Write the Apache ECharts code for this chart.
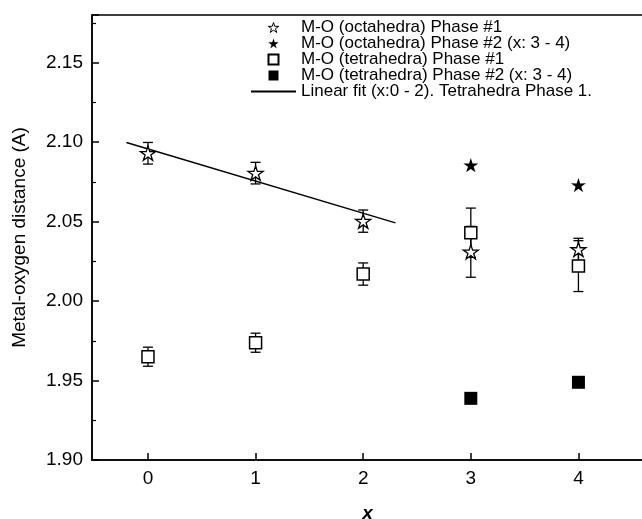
<!DOCTYPE html>
<html>
<head>
<meta charset="utf-8">
<script src="https://cdn.jsdelivr.net/npm/echarts@6/dist/echarts.min.js"></script>
<style>
  html, body { margin: 0; padding: 0; background: #fff; }
  #main { width: 642px; height: 519px; }
</style>
</head>
<body>
<div id="main"></div>
<script>
// values
var xTicks = [0, 1, 2, 3, 4];

var octa1X = [0, 1, 2, 3, 4];
var octa1Y = [2.093, 2.0805, 2.0503, 2.031, 2.0325];
var octa1Err = [0.0068, 0.0068, 0.007, 0.016, 0.007];

var octa2X = [3, 4];
var octa2Y = [2.0855, 2.073];

var tetra1X = [0, 1, 2, 3, 4];
var tetra1Y = [1.965, 1.9738, 2.017, 2.043, 2.022];
var tetra1Err = [0.006, 0.006, 0.007, 0.0155, 0.016];

var tetra2X = [3, 4];
var tetra2Y = [1.9388, 1.9489];

var fitX = [-0.2, 2.3];
var fitY = [2.0998, 2.0492];

var names = [
    'M-O (octahedra) Phase #1',
    'M-O (octahedra) Phase #2 (x: 3 - 4)',
    'M-O (tetrahedra) Phase #1',
    'M-O (tetrahedra) Phase #2 (x: 3 - 4)',
    'Linear fit (x:0 - 2). Tetrahedra Phase 1.'
];

var starPath = 'path://M50 0 L61.2 34.6 L97.6 34.5 L68.1 55.9 L79.4 90.5 L50 69 L20.6 90.5 L31.9 55.9 L2.4 34.5 L38.8 34.6 Z';
var squarePath = 'path://M0 0 H10 V10 H0 Z';
var barPath = 'path://M0 0 H100 V4 H0 Z';

function zip(xs, ys, es) {
    return xs.map(function (x, i) {
        return es ? [x, ys[i], es[i]] : [x, ys[i]];
    });
}

// error bars with caps
function errorBars(params, api) {
    var x = api.value(0), y = api.value(1), e = api.value(2);
    var top = api.coord([x, y + e]);
    var bot = api.coord([x, y - e]);
    var cap = 5;
    var st = { stroke: '#000', lineWidth: 1.3 };
    return {
        type: 'group',
        children: [
            { type: 'line', shape: { x1: top[0], y1: top[1], x2: bot[0], y2: bot[1] }, style: st },
            { type: 'line', shape: { x1: top[0] - cap, y1: top[1], x2: top[0] + cap, y2: top[1] }, style: st },
            { type: 'line', shape: { x1: bot[0] - cap, y1: bot[1], x2: bot[0] + cap, y2: bot[1] }, style: st }
        ]
    };
}

var chart = echarts.init(document.getElementById('main'));

var font = 'Liberation Sans, Arial, sans-serif';

var option = {
    animation: false,
    backgroundColor: '#fff',
    textStyle: { fontFamily: font },
    grid: {
        left: 92, top: 15, right: -1, bottom: 59,
        outerBoundsMode: 'none',
        containLabel: false,
        show: true, borderColor: '#000', borderWidth: 1.5
    },
    legend: {
        orient: 'vertical',
        left: 246,
        top: 14,
        itemWidth: 45,
        itemHeight: 10,
        itemGap: -1,
        textStyle: { fontFamily: font, fontSize: 17, color: '#000', lineHeight: 16 },
        data: [
            { name: names[0], icon: starPath, itemStyle: { borderWidth: 1 } },
            { name: names[1], icon: starPath },
            { name: names[2], icon: squarePath },
            { name: names[3], icon: squarePath },
            { name: names[4], icon: barPath, itemStyle: { color: '#000' } }
        ]
    },
    xAxis: {
        type: 'value',
        min: -0.52,
        max: 4.6,
        name: 'x',
        nameLocation: 'middle',
        nameGap: 44,
        nameTextStyle: { fontFamily: font, fontSize: 19, fontWeight: 'bold', fontStyle: 'italic', color: '#000' },
        axisLine: { show: true, onZero: false, lineStyle: { color: '#000', width: 1.5 } },
        axisTick: { show: true, inside: true, length: 7, customValues: xTicks, lineStyle: { color: '#000', width: 1.5 } },
        axisLabel: { customValues: xTicks, fontSize: 19, color: '#000', margin: 9, fontFamily: font },
        splitLine: { show: false }
    },
    yAxis: {
        type: 'value',
        min: 1.9,
        max: 2.18,
        interval: 0.05,
        name: 'Metal-oxygen distance (A)',
        nameLocation: 'middle',
        nameGap: 63,
        nameTextStyle: { fontFamily: font, fontSize: 19, color: '#000' },
        axisLine: { show: true, onZero: false, lineStyle: { color: '#000', width: 1.5 } },
        axisTick: { show: true, inside: true, length: 7, lineStyle: { color: '#000', width: 1.5 } },
        minorTick: { show: true, splitNumber: 2, length: 4, lineStyle: { color: '#000', width: 1.2 } },
        axisLabel: {
            fontSize: 19, color: '#000', margin: 9, fontFamily: font,
            showMaxLabel: false,
            formatter: function (v) { return v.toFixed(2); }
        },
        splitLine: { show: false }
    },
    series: [
        {
            type: 'custom',
            renderItem: errorBars,
            data: zip(octa1X, octa1Y, octa1Err),
            encode: { x: 0, y: 1 },
            silent: true,
            z: 1
        },
        {
            type: 'custom',
            renderItem: errorBars,
            data: zip(tetra1X, tetra1Y, tetra1Err),
            encode: { x: 0, y: 1 },
            silent: true,
            z: 1
        },
        {
            name: names[0],
            type: 'scatter',
            symbol: starPath,
            symbolKeepAspect: true,
            symbolSize: 15,
            itemStyle: { color: '#fff', borderColor: '#000', borderWidth: 1.3, opacity: 1 },
            data: zip(octa1X, octa1Y),
            z: 3
        },
        {
            name: names[1],
            type: 'scatter',
            symbol: starPath,
            symbolKeepAspect: true,
            symbolSize: 15,
            itemStyle: { color: '#000', opacity: 1 },
            data: zip(octa2X, octa2Y),
            z: 3
        },
        {
            name: names[2],
            type: 'scatter',
            symbol: 'rect',
            symbolSize: 12,
            itemStyle: { color: '#fff', borderColor: '#000', borderWidth: 1.5, opacity: 1 },
            data: zip(tetra1X, tetra1Y),
            z: 3
        },
        {
            name: names[3],
            type: 'scatter',
            symbol: 'rect',
            symbolSize: 13,
            itemStyle: { color: '#000', opacity: 1 },
            data: zip(tetra2X, tetra2Y),
            z: 3
        },
        {
            name: names[4],
            type: 'line',
            symbol: 'none',
            lineStyle: { color: '#000', width: 1.5 },
            itemStyle: { color: '#000' },
            data: zip(fitX, fitY),
            z: 2
        }
    ]
};

chart.setOption(option);
</script>
</body>
</html>
